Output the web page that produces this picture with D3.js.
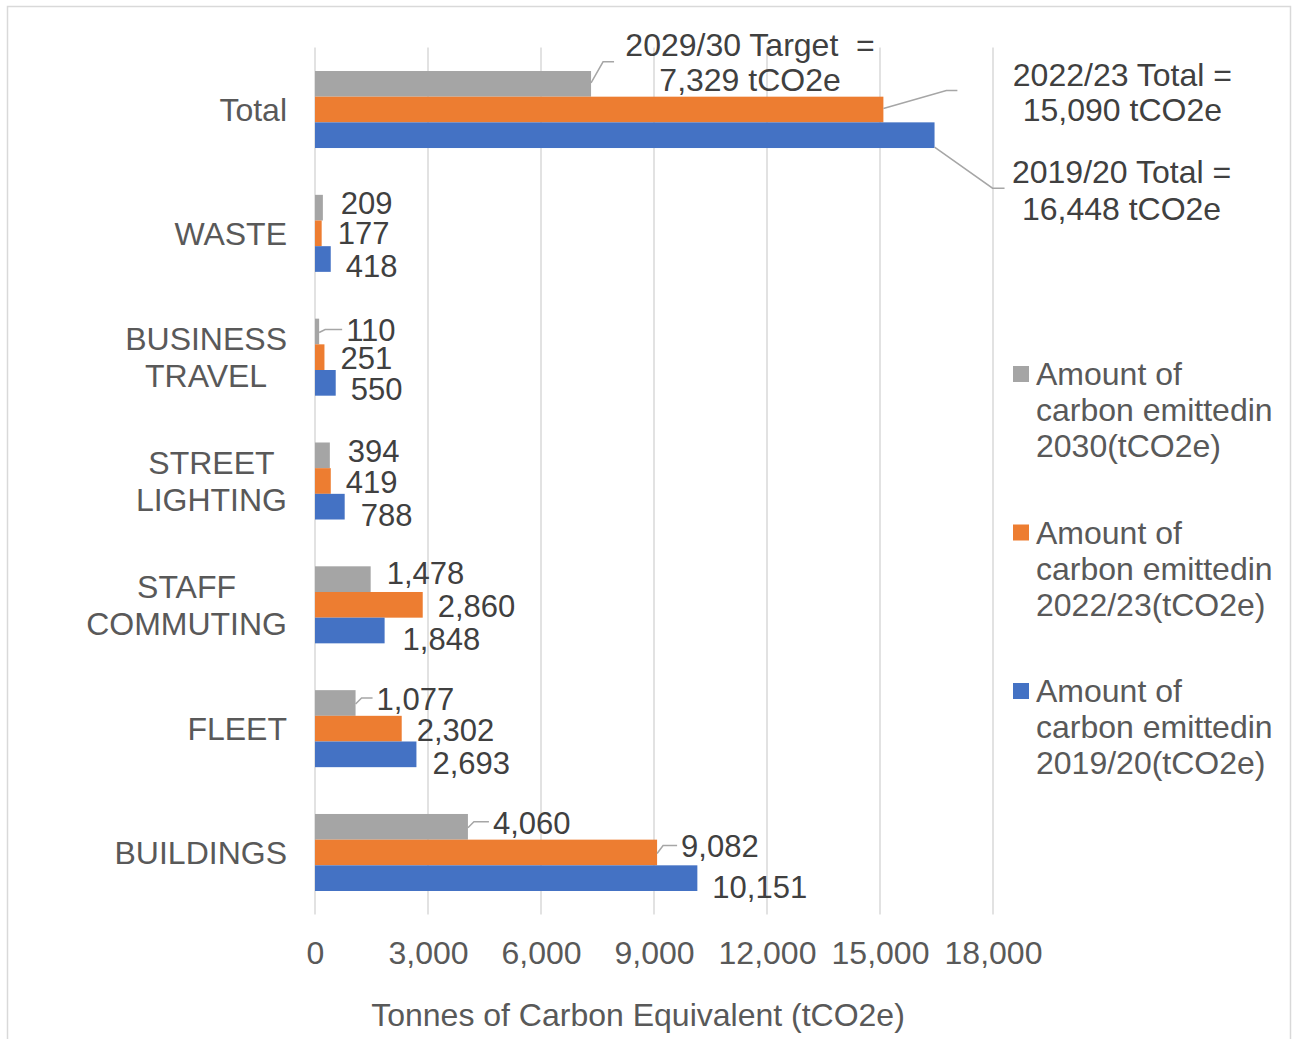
<!DOCTYPE html>
<html>
<head>
<meta charset="utf-8">
<script src="https://cdn.jsdelivr.net/npm/d3@7"></script>
<style>
    html, body { margin: 0; padding: 0; background: #fff; }
    text { font-family: 'Liberation Sans', Arial, sans-serif; }
</style>
</head>
<body>
<div id="visualization"></div>
<script>
// Data
const categories = ['Total', 'WASTE', 'BUSINESS TRAVEL', 'STREET LIGHTING', 'STAFF COMMUTING', 'FLEET', 'BUILDINGS'];
const seriesKeys = ['2030', '2022/23', '2019/20'];
const values2030 = [7329, 209, 110, 394, 1478, 1077, 4060];
const values2223 = [15090, 177, 251, 419, 2860, 2302, 9082];
const values1920 = [16448, 418, 550, 788, 1848, 2693, 10151];
const legendLines = [
    ['Amount of', 'carbon emittedin', '2030(tCO2e)'],
    ['Amount of', 'carbon emittedin', '2022/23(tCO2e)'],
    ['Amount of', 'carbon emittedin', '2019/20(tCO2e)']
];
const totalNotes = [
    ['2029/30 Target  =', '7,329 tCO2e'],
    ['2022/23 Total =', '15,090 tCO2e'],
    ['2019/20 Total =', '16,448 tCO2e']
];
const xTicks = [0, 3000, 6000, 9000, 12000, 15000, 18000];
const xTitle = 'Tonnes of Carbon Equivalent (tCO2e)';

// Configuration
const config = {
    width: 1295,
    height: 1039,
    plot: { left: 315, right: 993, top: 47.6, bottom: 914.4 },
    colors: ['#A5A5A5', '#ED7D31', '#4472C4'],
    textColor: '#595959',
    labelColor: '#404040',
    gridColor: '#D9D9D9',
    fontSize: 32,
    labelSize: 31
};

// Label nudges [dx from bar end, dy from bar centre], per series, per category (Total handled by notes)
const labelNudge = [
    [null, [18, -5], [27, -1], [18, -4], [16, -6], [21, -4], [25, -4]],
    [null, [16, 0], [16, 1], [15, 1], [15, 1], [15, 1], [24, -6]],
    [null, [15, 7], [15, 6], [16, 8], [18, 9], [16, 9], [15, 9]]
];
// Total annotations: text centre offset and leader path, relative to bar end/centre
const noteLayout = [
    { dx: 159, dy: [-39, -4], leader: [[0, -1], [12, -22], [23, -22]] },
    { dx: 239, dy: [-35, 0], leader: [[0, -1], [63, -19], [74, -19]] },
    { dx: 187, dy: [37, 74], leader: [[0, 12], [58, 53], [70, 53]] }
];

const seriesValues = [values2030, values2223, values1920];

const svg = d3.select('#visualization')
    .append('svg')
    .attr('width', config.width)
    .attr('height', config.height);

// Chart border
svg.append('rect')
    .attr('x', 7.5).attr('y', 6.5)
    .attr('width', 1283).attr('height', 1040)
    .attr('fill', '#fff')
    .attr('stroke', config.gridColor)
    .attr('stroke-width', 1.5);

const xScale = d3.scaleLinear()
    .domain([0, 18000])
    .range([config.plot.left, config.plot.right]);

const yScale = d3.scaleBand()
    .domain(categories)
    .range([config.plot.top, config.plot.bottom])
    .paddingInner(0.378)
    .paddingOuter(0.189);

const ySub = d3.scaleBand()
    .domain(seriesKeys)
    .range([0, yScale.bandwidth()]);

// Grid lines
svg.append('g')
    .selectAll('line')
    .data(xTicks)
    .join('line')
    .attr('x1', d => xScale(d))
    .attr('x2', d => xScale(d))
    .attr('y1', config.plot.top)
    .attr('y2', config.plot.bottom)
    .attr('stroke', config.gridColor)
    .attr('stroke-width', 1.5);

// X axis tick labels
const xAxis = svg.append('g')
    .attr('transform', `translate(0,${config.plot.bottom + 38})`)
    .call(d3.axisBottom(xScale).tickValues(xTicks).tickFormat(d3.format(',')).tickSize(0));
xAxis.select('.domain').remove();
xAxis.selectAll('text')
    .attr('font-family', "'Liberation Sans', Arial, sans-serif")
    .attr('font-size', config.fontSize)
    .attr('fill', config.textColor)
    .attr('y', 0)
    .attr('dy', '0.35em');

svg.append('text')
    .attr('x', 638)
    .attr('y', 1015)
    .attr('dy', '0.35em')
    .attr('text-anchor', 'middle')
    .attr('font-size', config.fontSize)
    .attr('fill', config.textColor)
    .text(xTitle);

// Category labels (multi-line blocks centred, block right-aligned)
const catG = svg.append('g');
categories.forEach(cat => {
    const lines = cat.split(' ');
    const cy = yScale(cat) + yScale.bandwidth() / 2;
    const g = catG.append('g');
    const lh = 37;
    const texts = lines.map((ln, i) => g.append('text')
        .attr('y', cy + (i - (lines.length - 1) / 2) * lh)
        .attr('dy', '0.35em')
        .attr('text-anchor', 'middle')
        .attr('font-size', config.fontSize)
        .attr('fill', config.textColor)
        .text(ln));
    const maxW = d3.max(texts, t => t.node().getComputedTextLength());
    texts.forEach(t => t.attr('x', 287 - maxW / 2));
});

// Bars
seriesKeys.forEach((key, s) => {
    svg.append('g')
        .selectAll('rect')
        .data(categories)
        .join('rect')
        .attr('x', xScale(0))
        .attr('y', (d) => yScale(d) + ySub(key))
        .attr('width', (d, i) => xScale(seriesValues[s][i]) - xScale(0))
        .attr('height', ySub.bandwidth())
        .attr('fill', config.colors[s]);
});

// Data labels
const fmt = d3.format(',');
const leaderLine = d3.line();
seriesKeys.forEach((key, s) => {
    categories.forEach((cat, i) => {
        const nudge = labelNudge[s][i];
        if (!nudge) return;
        const v = seriesValues[s][i];
        const x0 = xScale(v);
        const yc = yScale(cat) + ySub(key) + ySub.bandwidth() / 2;
        const tx = x0 + nudge[0];
        const ty = yc + nudge[1];
        if (nudge[0] > 20) {
            svg.append('path')
                .attr('d', leaderLine([[x0, yc + 1], [x0 + 6, ty - 1], [tx - 4, ty - 1]]))
                .attr('fill', 'none')
                .attr('stroke', '#A6A6A6')
                .attr('stroke-width', 1.5);
        }
        svg.append('text')
            .attr('x', tx)
            .attr('y', ty)
            .attr('dy', '0.35em')
            .attr('font-size', config.labelSize)
            .attr('fill', config.labelColor)
            .text(fmt(v));
    });
});

// Total annotations
totalNotes.forEach((lines, s) => {
    const lay = noteLayout[s];
    const x0 = xScale(seriesValues[s][0]);
    const yc = yScale('Total') + ySub(seriesKeys[s]) + ySub.bandwidth() / 2;
    svg.append('path')
        .attr('d', leaderLine(lay.leader.map(p => [x0 + p[0], yc + p[1]])))
        .attr('fill', 'none')
        .attr('stroke', '#A6A6A6')
        .attr('stroke-width', 1.5);
    lines.forEach((ln, j) => {
        svg.append('text')
            .attr('x', x0 + lay.dx)
            .attr('y', yc + lay.dy[j])
            .attr('dy', '0.35em')
            .attr('text-anchor', 'middle')
            .attr('font-size', config.fontSize)
            .attr('fill', config.labelColor)
            .style('white-space', 'pre')
            .text(ln);
    });
});

// Legend
const legend = svg.append('g').attr('transform', 'translate(1013,374)');
legendLines.forEach((lines, s) => {
    const g = legend.append('g').attr('transform', `translate(0,${s * 158.5})`);
    g.append('rect')
        .attr('x', 0).attr('y', -8)
        .attr('width', 16).attr('height', 16)
        .attr('fill', config.colors[s]);
    lines.forEach((ln, j) => {
        g.append('text')
            .attr('x', 23)
            .attr('y', j * 36)
            .attr('dy', '0.35em')
            .attr('font-size', config.fontSize)
            .attr('fill', config.textColor)
            .text(ln);
    });
});
</script>
</body>
</html>
